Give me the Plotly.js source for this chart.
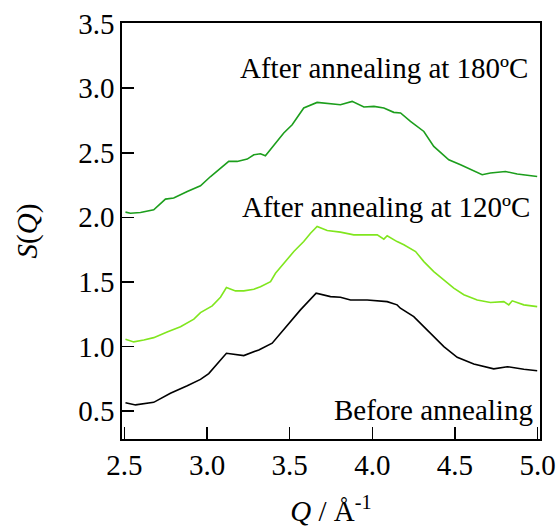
<!DOCTYPE html>
<html>
<head>
<meta charset="utf-8">
<script src="https://cdn.plot.ly/plotly-3.0.1.min.js"></script>
<style>html,body{margin:0;padding:0;background:#fff;}#chart{width:556px;height:527px;}</style>
</head>
<body>
<div id="chart"></div>
<script>
// Before annealing
var qBefore = [2.506,2.567,2.677,2.778,2.88,2.96,3.01,3.117,3.222,3.313,3.394,3.464,3.565,3.66,3.747,3.807,3.868,3.969,4.09,4.15,4.17,4.251,4.352,4.433,4.514,4.614,4.735,4.817,4.917,4.998];
var sBefore = [0.564,0.547,0.567,0.637,0.696,0.745,0.79,0.947,0.929,0.973,1.025,1.128,1.283,1.412,1.386,1.381,1.36,1.36,1.347,1.322,1.296,1.231,1.102,0.998,0.916,0.864,0.826,0.843,0.823,0.812];

// After annealing at 120 C
var q120 = [2.506,2.556,2.617,2.677,2.758,2.839,2.92,2.96,3.031,3.081,3.117,3.172,3.222,3.283,3.323,3.384,3.414,3.464,3.525,3.585,3.626,3.666,3.727,3.807,3.888,3.969,4.03,4.07,4.09,4.15,4.191,4.262,4.312,4.372,4.433,4.493,4.554,4.635,4.715,4.796,4.826,4.847,4.917,4.998];
var s120 = [1.056,1.035,1.05,1.068,1.112,1.153,1.211,1.262,1.314,1.381,1.456,1.43,1.43,1.443,1.463,1.502,1.567,1.645,1.735,1.812,1.877,1.929,1.898,1.885,1.864,1.864,1.864,1.831,1.857,1.812,1.787,1.735,1.657,1.58,1.516,1.451,1.4,1.36,1.34,1.347,1.322,1.353,1.322,1.308];

// After annealing at 180 C
var q180 = [2.506,2.536,2.597,2.677,2.748,2.798,2.88,2.96,3.021,3.081,3.131,3.182,3.243,3.283,3.323,3.353,3.414,3.464,3.515,3.585,3.666,3.747,3.807,3.878,3.949,4.01,4.07,4.13,4.171,4.231,4.312,4.372,4.463,4.534,4.604,4.665,4.715,4.806,4.877,4.998];
var s180 = [2.04,2.032,2.037,2.058,2.141,2.149,2.2,2.244,2.316,2.381,2.433,2.433,2.451,2.484,2.492,2.477,2.575,2.653,2.717,2.847,2.89,2.878,2.872,2.898,2.854,2.859,2.847,2.813,2.808,2.743,2.665,2.549,2.446,2.407,2.368,2.33,2.343,2.355,2.335,2.316];

var xTicks = [2.5,3.0,3.5,4.0,4.5,5.0];
var xTickText = ['2.5','3.0','3.5','4.0','4.5','5.0'];
var yTicks = [0.5,1.0,1.5,2.0,2.5,3.0,3.5];
var yTickText = ['0.5','1.0','1.5','2.0','2.5','3.0','3.5'];

var labels = ['After annealing at 180ºC','After annealing at 120ºC','Before annealing'];

var serif = '"Liberation Serif","Times New Roman",Times,serif';

var traces = [
  {x:qBefore, y:sBefore, mode:'lines', line:{color:'#000000', width:1.6}, name:labels[2]},
  {x:q120, y:s120, mode:'lines', line:{color:'#80e61e', width:1.6}, name:labels[1]},
  {x:q180, y:s180, mode:'lines', line:{color:'#1c9e1c', width:1.6}, name:labels[0]}
];

var layout = {
  width:556, height:527,
  margin:{l:122, r:16, t:23, b:88},
  paper_bgcolor:'#ffffff', plot_bgcolor:'#ffffff',
  showlegend:false,
  font:{family:serif, size:29, color:'#000'},
  xaxis:{
    range:[2.485,5.015], tickvals:xTicks, ticktext:xTickText,
    ticks:'inside', ticklen:12, tickwidth:1.5, tickcolor:'#000',
    showline:true, linewidth:1.6, linecolor:'#000', mirror:true,
    showgrid:false, zeroline:false,
    tickfont:{family:serif, size:29},
    title:{text:'<i>Q</i> / Å<sup>-1</sup>', font:{family:serif, size:29}, standoff:20}
  },
  yaxis:{
    range:[0.283,3.505], tickvals:yTicks, ticktext:yTickText,
    ticks:'inside', ticklen:12, tickwidth:1.5, tickcolor:'#000',
    showline:true, linewidth:1.6, linecolor:'#000', mirror:true,
    showgrid:false, zeroline:false,
    tickfont:{family:serif, size:29},
    title:{text:'<i>S</i>(<i>Q</i>)', font:{family:serif, size:29}, standoff:32}
  },
  annotations:[
    {x:3.189, y:3.159, xref:'x', yref:'y', text:labels[0], showarrow:false, xanchor:'left', yanchor:'middle', font:{family:serif, size:29}},
    {x:3.199, y:2.081, xref:'x', yref:'y', text:labels[1], showarrow:false, xanchor:'left', yanchor:'middle', font:{family:serif, size:29}},
    {x:3.756, y:0.508, xref:'x', yref:'y', text:labels[2], showarrow:false, xanchor:'left', yanchor:'middle', font:{family:serif, size:29}}
  ]
};

Plotly.newPlot('chart', traces, layout, {displayModeBar:false, staticPlot:true});
</script>
</body>
</html>
